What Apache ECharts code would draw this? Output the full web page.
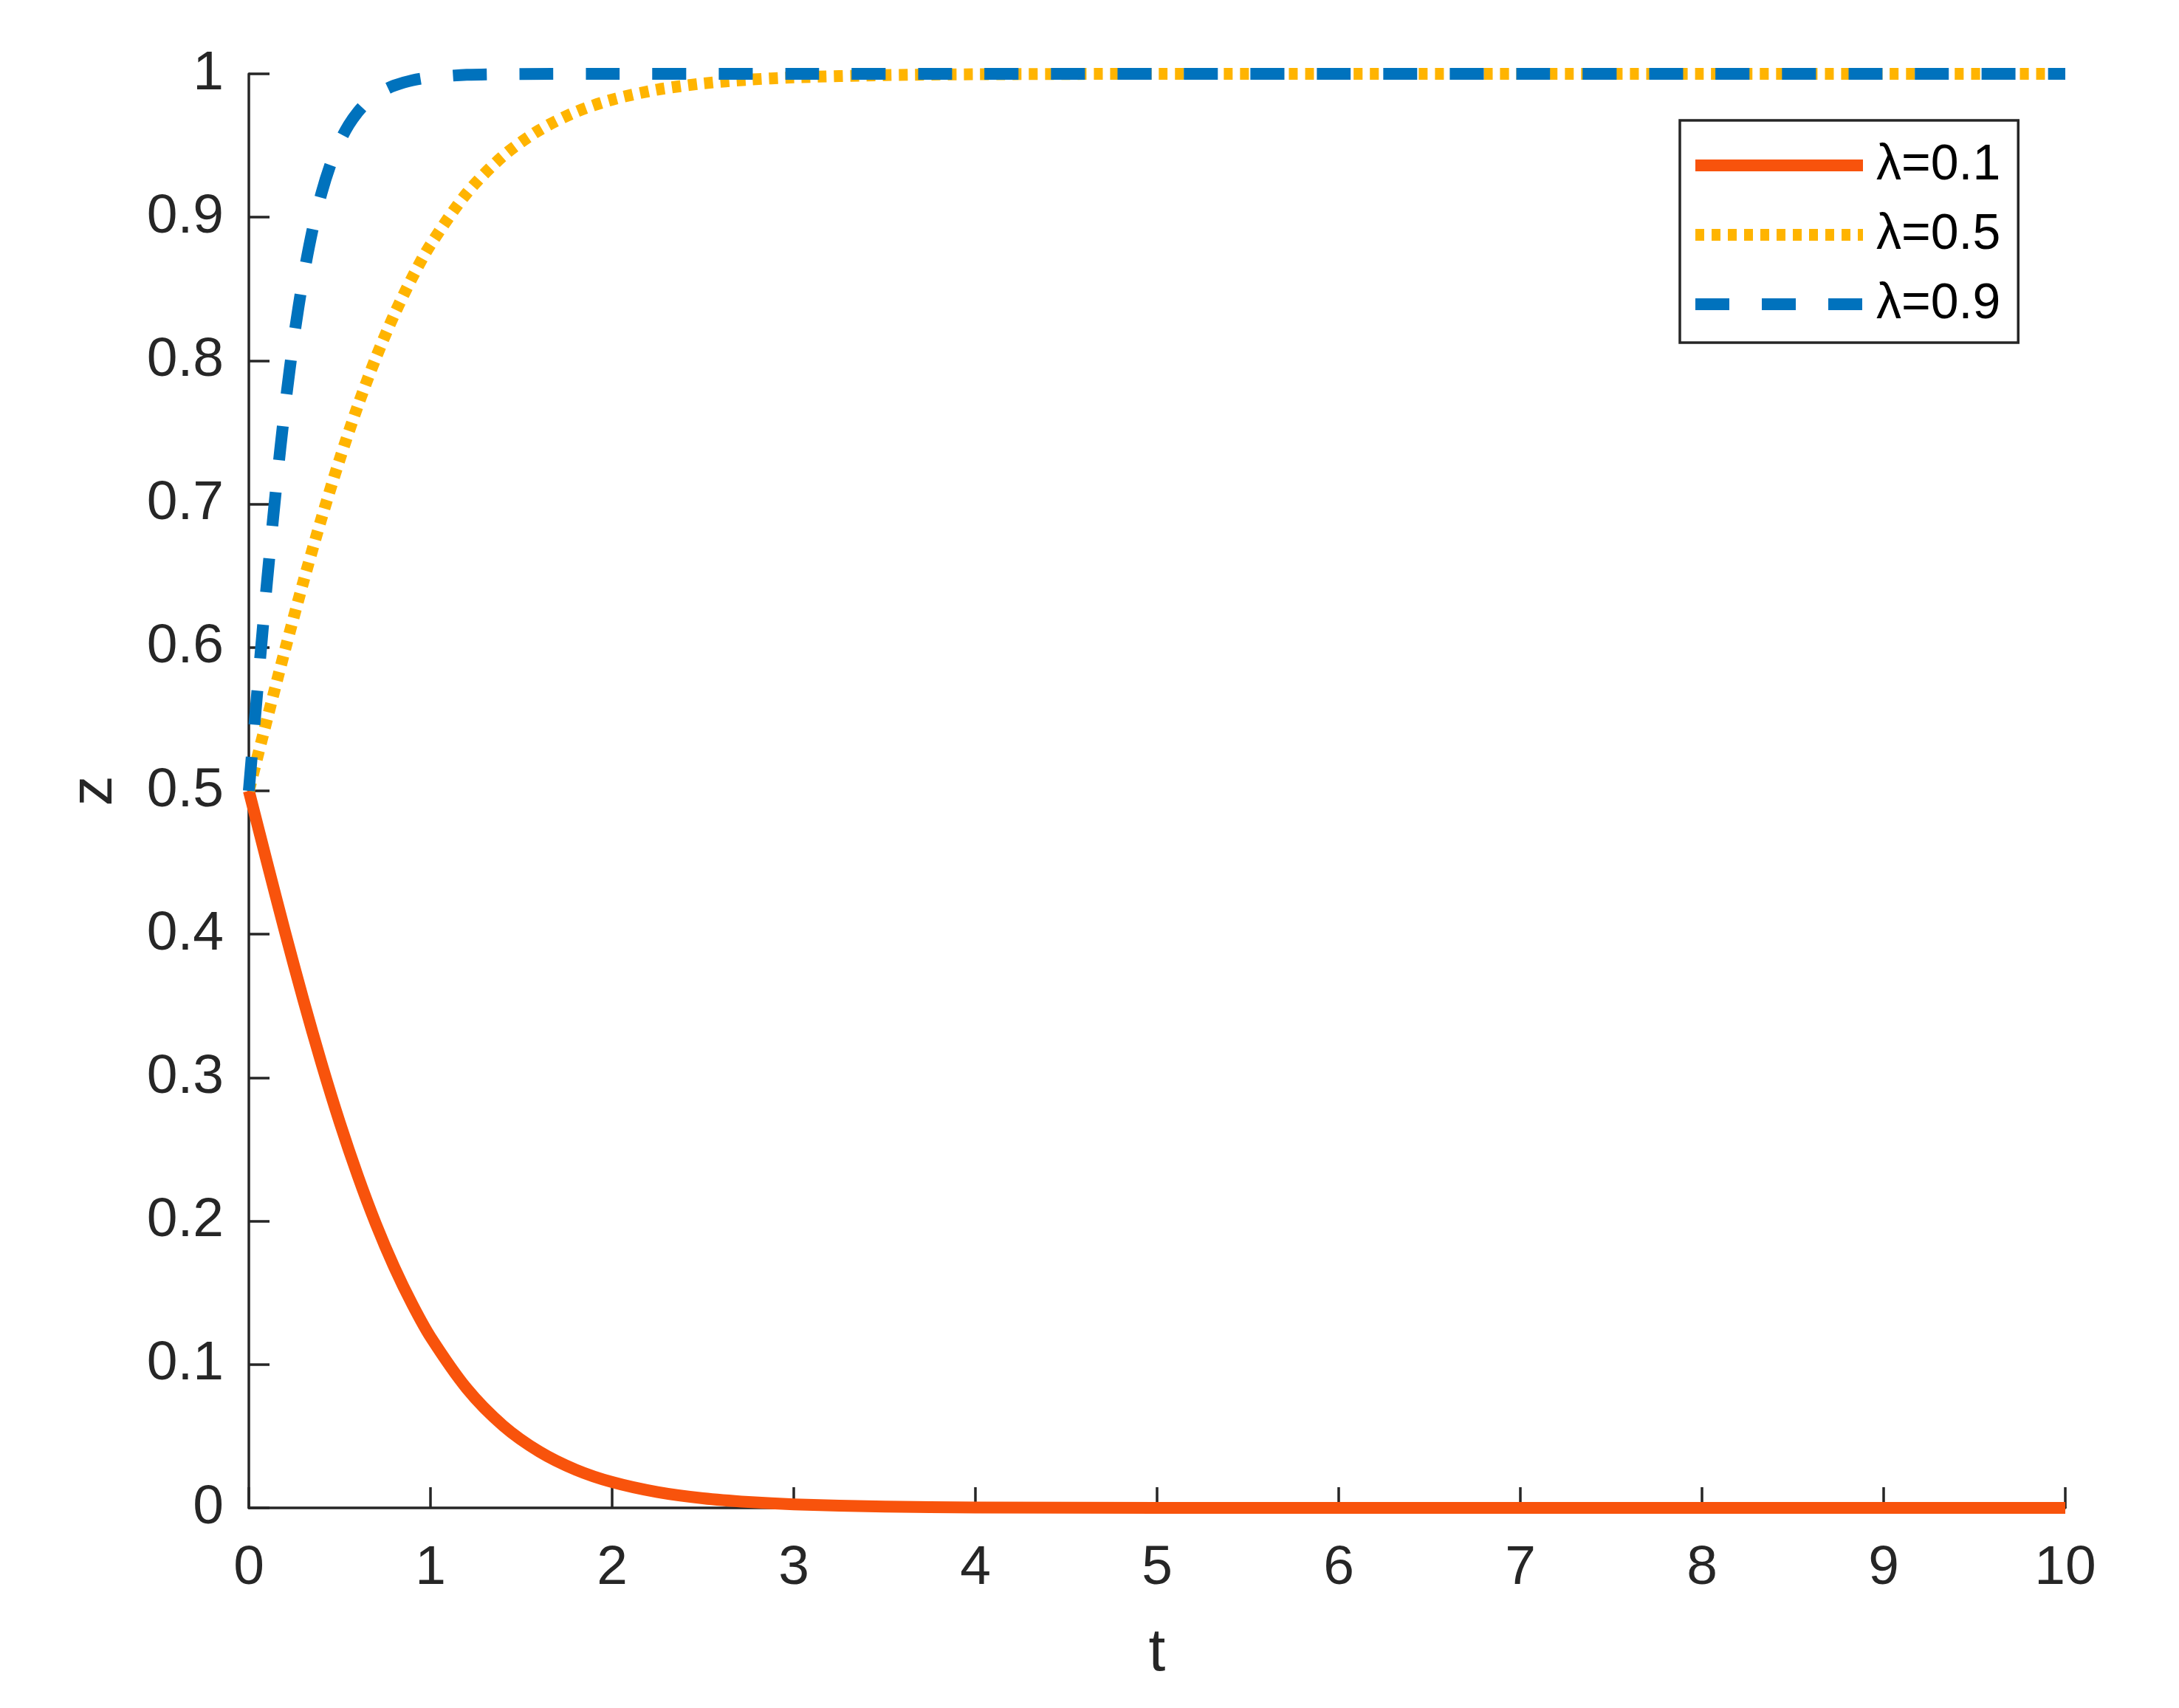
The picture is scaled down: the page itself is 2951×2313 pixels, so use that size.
<!DOCTYPE html>
<html>
<head>
<meta charset="utf-8">
<script src="https://cdn.jsdelivr.net/npm/echarts@6/dist/echarts.min.js"></script>
<style>
  html, body { margin: 0; padding: 0; background: #ffffff; }
  #chart { width: 2951px; height: 2313px; }
</style>
</head>
<body>
<div id="chart"></div>
<script>
// ---- data ----
const xTicks = [0, 1, 2, 3, 4, 5, 6, 7, 8, 9, 10];
const yTicks = [0, 0.1, 0.2, 0.3, 0.4, 0.5, 0.6, 0.7, 0.8, 0.9, 1];
const seriesNames = ['λ=0.1', 'λ=0.5', 'λ=0.9'];

// time samples for λ=0.1 and λ=0.5
const tSlow = [0, 0.1, 0.2, 0.3, 0.4, 0.5, 0.6, 0.7, 0.8, 0.9, 1.0, 1.2, 1.4, 1.6, 1.8, 2.0, 2.25, 2.5, 2.75, 3.0, 3.5, 4, 5, 6, 7, 8, 9, 10];
const zLambda01 = [0.5, 0.4502, 0.4013, 0.3543, 0.3100, 0.2689, 0.2315, 0.1978, 0.1680, 0.1419, 0.1192, 0.0832, 0.0573, 0.0392, 0.0266, 0.0180, 0.0110, 0.0067, 0.0041, 0.0025, 0.0009, 0.0003, 0, 0, 0, 0, 0, 0];
const zLambda05 = [0.5, 0.5498, 0.5987, 0.6457, 0.6900, 0.7311, 0.7685, 0.8022, 0.8320, 0.8581, 0.8808, 0.9168, 0.9427, 0.9608, 0.9734, 0.9820, 0.9890, 0.9933, 0.9959, 0.9975, 0.9991, 0.9997, 1, 1, 1, 1, 1, 1];

// time samples for λ=0.9
const tFast = [0, 0.025, 0.05, 0.075, 0.1, 0.15, 0.2, 0.25, 0.3, 0.35, 0.4, 0.45, 0.5, 0.55, 0.6, 0.65, 0.7, 0.75, 0.8, 0.9, 1.0, 1.2, 1.5, 2, 3, 4, 5, 6, 7, 8, 9, 10];
const zLambda09 = [0.5, 0.5374, 0.5744, 0.6107, 0.6457, 0.7109, 0.7685, 0.8176, 0.8581, 0.8909, 0.9168, 0.9370, 0.9526, 0.9644, 0.9734, 0.9802, 0.9852, 0.9890, 0.9918, 0.9955, 0.9975, 0.9993, 0.9999, 1, 1, 1, 1, 1, 1, 1, 1, 1];

const colors = ['#F8530C', '#FFB400', '#0072BD'];

function pairs(xs, ys) { return xs.map((x, i) => [x, ys[i]]); }

const FONT = '"Liberation Sans", Arial, Helvetica, sans-serif';
const TXT = '#262626';

const chart = echarts.init(document.getElementById('chart'), null, { renderer: 'canvas' });

function lineSeries(i, data, dash) {
  return {
    name: seriesNames[i], type: 'line', data: data,
    showSymbol: false, symbol: 'none', smooth: 0.3, clip: false,
    lineStyle: { color: colors[i], width: 16, type: dash, cap: 'butt', join: 'round' },
    itemStyle: { color: colors[i] }, z: 3 + i
  };
}

const option = {
  backgroundColor: '#ffffff',
  animation: false,
  grid: { left: 337, top: 100, width: 2460, height: 1942, containLabel: false },
  xAxis: {
    type: 'value',
    min: 0, max: 10, interval: 1,
    name: 't',
    nameLocation: 'middle',
    nameGap: 156,
    nameTextStyle: { fontFamily: FONT, fontSize: 82, color: TXT },
    axisLine: { show: true, onZero: false, lineStyle: { color: TXT, width: 3.5 } },
    axisTick: { show: true, inside: true, length: 28, lineStyle: { color: TXT, width: 3.5 } },
    axisLabel: { fontFamily: FONT, fontSize: 75, color: TXT, margin: 45,
                 formatter: v => xTicks.includes(v) ? String(v) : '' },
    splitLine: { show: false }
  },
  yAxis: {
    type: 'value',
    min: 0, max: 1, interval: 0.1,
    name: 'z',
    nameLocation: 'middle',
    nameGap: 168,
    nameRotate: 90,
    nameTextStyle: { fontFamily: FONT, fontSize: 82, color: TXT },
    axisLine: { show: true, onZero: false, lineStyle: { color: TXT, width: 3.5 } },
    axisTick: { show: true, inside: true, length: 28, lineStyle: { color: TXT, width: 3.5 } },
    axisLabel: { fontFamily: FONT, fontSize: 75, color: TXT, margin: 34,
                 formatter: v => { const r = Math.round(v * 10) / 10; return yTicks.includes(r) ? String(r) : ''; } },
    splitLine: { show: false }
  },
  legend: {
    orient: 'vertical',
    left: 2275, top: 163,
    padding: [22, 24, 13, 13],
    backgroundColor: '#ffffff',
    borderColor: TXT,
    borderWidth: 3.5,
    borderRadius: 0,
    itemWidth: 227,
    itemHeight: 16,
    itemGap: 16,
    itemStyle: { opacity: 0, borderWidth: 0 },
    lineStyle: { width: 16, cap: 'butt' },
    textStyle: { fontFamily: FONT, fontSize: 68, color: '#000000', lineHeight: 78, padding: [0, 0, 0, 13] },
    data: seriesNames
  },
  series: [
    lineSeries(0, pairs(tSlow, zLambda01), 'solid'),
    lineSeries(1, pairs(tSlow, zLambda05), [12, 10]),
    lineSeries(2, pairs(tFast, zLambda09), [46, 44])
  ]
};

chart.setOption(option);
</script>
</body>
</html>
